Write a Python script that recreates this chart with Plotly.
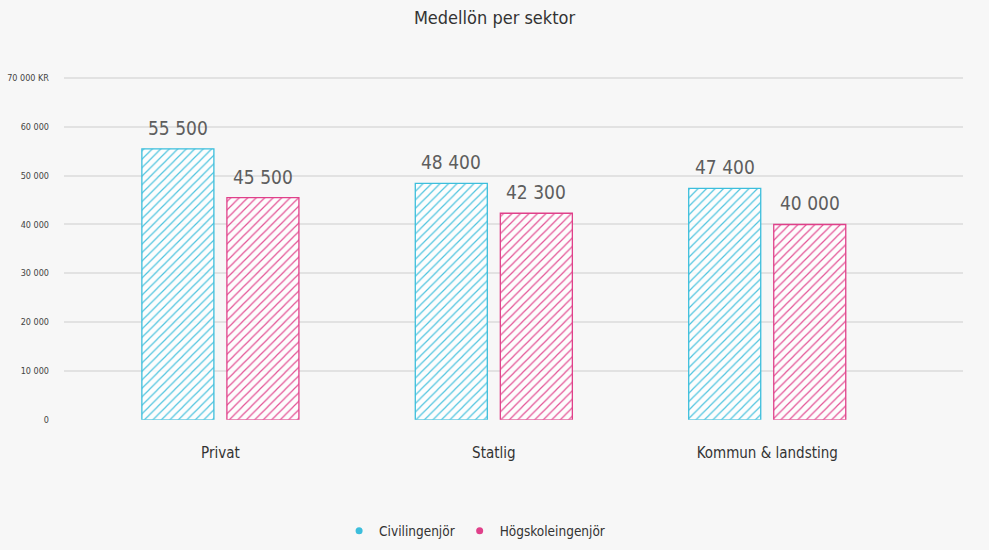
import plotly.graph_objects as go

categories = ["Privat", "Statlig", "Kommun & landsting"]
civil = [55500, 48400, 47400]
hogskole = [45500, 42300, 40000]
series_names = ["Civilingenjör", "Högskoleingenjör"]
tick_vals = [0, 10000, 20000, 30000, 40000, 50000, 60000, 70000]
tick_text = ["0", "10 000", "20 000", "30 000", "40 000", "50 000", "60 000", "70 000 KR"]

FONT = "DejaVu Sans Condensed, Liberation Sans Narrow, Roboto, sans-serif"
CYAN = "#3cbedc"
PINK = "#e0408a"
LABEL_XSHIFT = 42.5  # px offset of each bar from its category centre

fig = go.Figure()
for i, (name, vals, col) in enumerate([(series_names[0], civil, CYAN), (series_names[1], hogskole, PINK)]):
    fig.add_trace(go.Bar(
        x=categories, y=vals, name=name, showlegend=False,
        marker=dict(color="rgba(255,255,255,0.8)",
                    line=dict(color=col, width=1.3),
                    pattern=dict(shape="/", fgcolor=col, bgcolor="rgba(255,255,255,0.8)",
                                 fgopacity=0.9, size=6, solidity=0.2, fillmode="replace")),
        hovertemplate="%{x}: %{y:,}<extra>" + name + "</extra>",
    ))
    fig.add_trace(go.Scatter(
        x=[None], y=[None], mode="markers", name=name,
        marker=dict(symbol="circle", size=7, color=col),
    ))
    sign = -1 if i == 0 else 1
    for c, v in zip(categories, vals):
        fig.add_annotation(
            x=c, y=v, xref="x", yref="y", text=f"{v:,}".replace(",", " "),
            showarrow=False, xanchor="center", yanchor="bottom",
            xshift=sign * LABEL_XSHIFT, yshift=8,
            font=dict(family=FONT, size=19, color="#5e5e5e"),
        )

fig.update_layout(
    width=989, height=550,
    paper_bgcolor="#f7f7f7", plot_bgcolor="#f7f7f7",
    separators=", ",
    font=dict(family=FONT, color="#444444"),
    title=dict(text="Medellön per sektor", x=0.5, xanchor="center", y=0.967, yanchor="middle",
               font=dict(family=FONT, size=18, color="#333333")),
    margin=dict(l=64, r=26, t=76, b=100),
    barmode="group", bargap=0.378, bargroupgap=0.153,
    xaxis=dict(range=[-0.572, 2.716], showgrid=False, zeroline=False, showline=False,
               ticks="", ticklabelstandoff=22, automargin=False,
               tickfont=dict(family=FONT, size=15, color="#333333")),
    yaxis=dict(range=[0, 70400], tickvals=tick_vals, ticktext=tick_text,
               domain=[0.0806, 1], automargin=False,
               showgrid=True, gridcolor="#e2e2e2", gridwidth=2, zeroline=False,
               showline=False, ticks="", ticklabelstandoff=14,
               tickfont=dict(family=FONT, size=9, color="#444444")),
    legend=dict(orientation="h", x=0.306, xanchor="left",
                yref="container", y=0.0345, yanchor="middle",
                font=dict(family=FONT, size=13.5, color="#333333"),
                itemwidth=30, bgcolor="rgba(0,0,0,0)"),
)

fig.write_html("out.html")
